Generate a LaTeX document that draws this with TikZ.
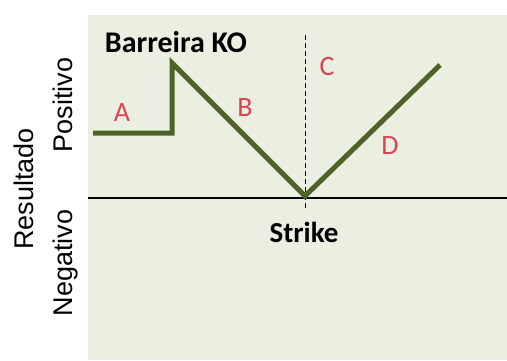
\documentclass[tikz,border=0pt]{standalone}
\usepackage{fontspec}
\setmainfont{Carlito}
\newfontfamily\axisfont{Liberation Sans}
\definecolor{panel}{HTML}{EBEFE1}
\definecolor{payoff}{HTML}{4F6228}
\definecolor{zone}{HTML}{DC4352}
\begin{document}
\begin{tikzpicture}[x=1pt, y=-1pt,
    zonelabel/.style={text=zone, font=\fontsize{28}{32}\selectfont, inner sep=0pt},
    axislabel/.style={font=\axisfont\fontsize{27}{31}\selectfont, rotate=90,
      inner sep=0pt, anchor=base}]

\useasboundingbox (0,0) rectangle (507,360);
% the panel behind the chart
\fill[panel] (88,15) rectangle (507,360);

% strike point on the zero line
\coordinate (K) at (305,196);
\coordinate (zl) at (88,198);
\coordinate (zr) at (507,198);
\draw[line width=1.2pt] (zl) -- (zr);
\draw[dashed, line width=1pt, dash pattern=on 5pt off 3pt] (305,35) -- (305,208);

% payoff with the knock-out barrier
\coordinate (start) at (93,133);
\coordinate (step) at (172,133);
\coordinate (barrier) at (172,63);
\coordinate (end) at (440,65);
\draw[payoff, line width=5pt, line join=miter]
  (start) -- (step) -- (barrier) -- (K) -- (end);

\node[font=\bfseries\fontsize{30}{34}\selectfont, inner sep=0pt] (bko) at (176,42) {Barreira KO};
\node[font=\bfseries\fontsize{29}{33}\selectfont, inner sep=0pt] (strike) at (304,232) {Strike};

\node[zonelabel] (A) at (122,113) {A};
\node[zonelabel] (B) at (245,108) {B};
\node[zonelabel] (C) at (327,67) {C};
\node[zonelabel] (D) at (390,146) {D};

\node[axislabel] (res) at (33,189) {Resultado};
\node[axislabel] (pos) at (72,105) {Positivo};
\node[axislabel] (neg) at (72,263) {Negativo};
\end{tikzpicture}
\end{document}
